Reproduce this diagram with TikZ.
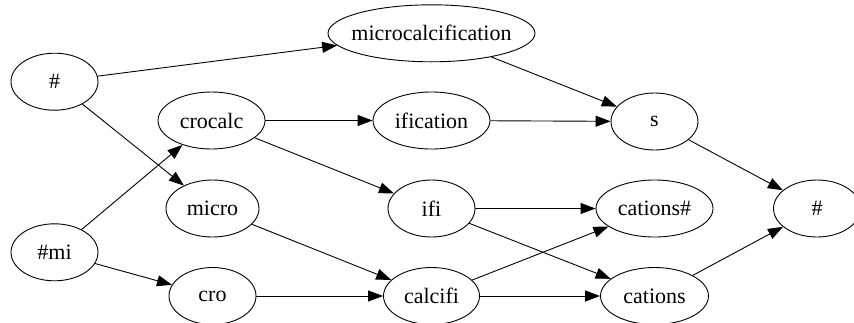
\documentclass[tikz,border=0pt]{standalone}
\usepackage{fontspec}
\setmainfont{Liberation Serif}
\usetikzlibrary{shapes.geometric,arrows.meta}

\tikzset{
  tok/.style={draw,ellipse,line width=0.9pt,inner sep=0pt,minimum height=57pt,minimum width=#1,font=\fontsize{22}{26}\selectfont},
  tok/.default=87pt,
  link/.style={-{Triangle[length=15pt,width=11pt]},line width=0.9pt}
}
\newcommand{\word}[1]{\makebox[0pt]{#1}}

\begin{document}
\begin{tikzpicture}[x=1pt,y=-1pt]
	\clip (0,0) rectangle (854,322);
	\useasboundingbox (0,0) rectangle (854,322);
	% nodes
	\node[tok] (hashL) at (54.5,81.7) {\word{\#}};
	\node[tok] (hashmi) at (54.5,252.3) {\word{\#mi}};
	\node[tok=207pt] (mcf) at (431.5,33.3) {\word{microcalcification}};
	\node[tok=107pt] (crocalc) at (211.5,120.5) {\word{crocalc}};
	\node[tok=93pt] (micro) at (212.5,208.5) {\word{micro}};
	\node[tok] (cro) at (212.5,296) {\word{cro}};
	\node[tok=117pt] (ification) at (431.5,120.5) {\word{ification}};
	\node[tok] (ifi) at (431.5,208.5) {\word{ifi}};
	\node[tok=96pt] (calcifi) at (431.5,296) {\word{calcifi}};
	\node[tok] (s) at (654.5,121.5) {\word{s}};
	\node[tok=117pt] (cationsH) at (654.5,208.5) {\word{cations\#}};
	\node[tok=108pt] (cations) at (654.5,296) {\word{cations}};
	\node[tok] (hashR) at (817,208.5) {\word{\#}};

	% edges
	\draw[link] (hashL) -- (mcf);
	\draw[link] (hashL) -- (micro);
	\draw[link] (hashmi) -- (crocalc);
	\draw[link] (hashmi) -- (cro);
	\draw[link] (crocalc) -- (ification);
	\draw[link] (crocalc) -- (ifi);
	\draw[link] (micro) -- (calcifi);
	\draw[link] (cro) -- (calcifi);
	\draw[link] (mcf) -- (s);
	\draw[link] (ification) -- (s);
	\draw[link] (ifi) -- (cationsH);
	\draw[link] (ifi) -- (cations);
	\draw[link] (calcifi) -- (cationsH);
	\draw[link] (calcifi) -- (cations);
	\draw[link] (s) -- (hashR);
	\draw[link] (cations) -- (hashR);
\end{tikzpicture}
\end{document}
